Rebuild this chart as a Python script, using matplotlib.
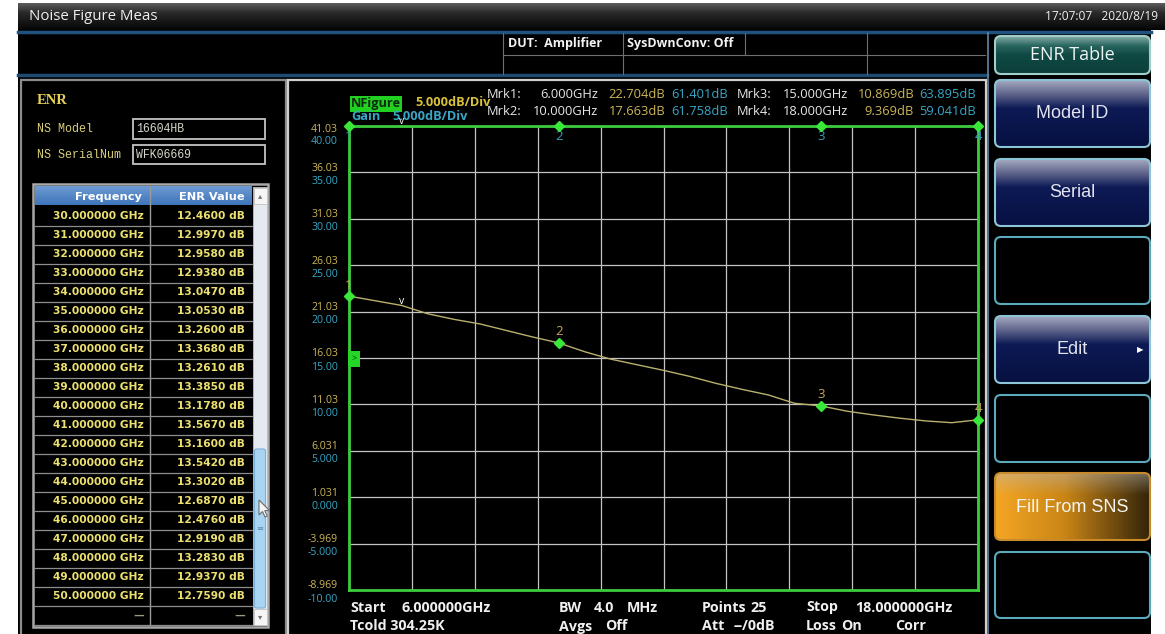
import numpy as np
import matplotlib
matplotlib.use("Agg")
import matplotlib.pyplot as plt
from matplotlib.patches import FancyBboxPatch, Rectangle, Polygon
from matplotlib.colors import to_rgb

plt.rcParams['font.family'] = ['Open Sans', 'DejaVu Sans']

W, H = 1165, 634

# sweep settings and measured noise figure trace
sweep_start, sweep_stop, sweep_points = 6.0, 18.0, 25
nf_trace = [22.70, 22.20, 21.70, 20.80, 20.20, 19.70, 19.00, 18.30, 17.66,
            16.70, 15.90, 15.30, 14.70, 14.05, 13.30, 12.65, 12.05, 11.15,
            10.87, 10.30, 9.90, 9.55, 9.25, 9.06, 9.37]

# marker readouts
mrk_freq = [6.0, 10.0, 15.0, 18.0]
mrk_nf = [22.704, 17.663, 10.869, 9.369]
mrk_gain = [61.401, 61.758, 63.895, 59.041]
delta_freq = 7.0
gain_ref_level = 15.0

# display scale
nf_top, gain_top, db_per_div, n_div = 41.031, 40.0, 5.0, 10

# ENR table of the noise source
ns_model, ns_serial = "16604HB", "WFK06669"
enr_freq = [30, 31, 32, 33, 34, 35, 36, 37, 38, 39, 40,
            41, 42, 43, 44, 45, 46, 47, 48, 49, 50]
enr_db = [12.460, 12.997, 12.958, 12.938, 13.047, 13.053, 13.260, 13.368,
          13.261, 13.385, 13.178, 13.567, 13.160, 13.542, 13.302, 12.687,
          12.476, 12.919, 13.283, 12.937, 12.759]

softkeys = ["ENR Table", "Model ID", "Serial", "", "Edit", "", "Fill From SNS", ""]
softkey_rows = [(36, 74), (80, 147), (159, 226), (237, 304),
                (316, 383), (395, 462), (473, 540), (552, 618)]

YEL = '#cdb65a'
BLU = '#3aa6c6'
TBL = '#ece070'
GRN = '#3ae83a'


def ramp(stops, n):
    pos = [p for p, _ in stops]
    cols = np.array([to_rgb(c) for _, c in stops])
    t = np.linspace(0, 1, n)
    return np.stack([np.interp(t, pos, cols[:, i]) for i in range(3)], axis=-1)


def shaded_box(ax, x0, y0, x1, y1, img, edge, lw=1.5, r=6):
    patch = FancyBboxPatch((x0, y0), x1 - x0, y1 - y0,
                           boxstyle=f"round,pad=0,rounding_size={r}",
                           fc='none', ec=edge, lw=lw, zorder=3)
    ax.add_patch(patch)
    if img is not None:
        im = ax.imshow(img, extent=(x0, x1, y1, y0), aspect='auto',
                       interpolation='bilinear', zorder=2)
        im.set_clip_path(patch)


fig = plt.figure(figsize=(W / 100, H / 100), dpi=100, facecolor='white')
ui = fig.add_axes([0, 0, 1, 1])
ui.axis('off')

# screen background and title bar
ui.add_patch(Rectangle((18, 3), 1133, H, fc='black', ec='none', zorder=0))
bar = ramp([(0, '#5c5c5c'), (0.35, '#2a2a2a'), (1, '#050505')], 40)[:, None, :]
ui.imshow(bar, extent=(18, W, 30, 3), aspect='auto', zorder=1)
ui.text(29, 17, "Noise Figure Meas", color='#f0f0f0', fontsize=10.8,
        va='center', zorder=4)
ui.text(1158, 17, "17:07:07   2020/8/19", color='#f0f0f0', fontsize=8.6,
        va='center', ha='right', zorder=4)
ui.plot([18, 1151], [31.5, 31.5], color='#1f527e', lw=2.5, zorder=2)
ui.plot([18, 987], [75, 75], color='#1f4a72', lw=2.5, zorder=2)

# status box
for x, y0, y1 in [(503, 33, 74), (623, 33, 74), (745, 33, 55), (867, 33, 74)]:
    ui.plot([x, x], [y0, y1], color='#6f6f6f', lw=0.8, zorder=2)
ui.plot([503, 985], [55, 55], color='#6f6f6f', lw=0.8, zorder=2)
ui.text(508, 44, "DUT:  Amplifier", color='#f2f2f2', fontsize=9.0,
        fontweight='bold', va='center', zorder=4)
ui.text(627, 44, "SysDwnConv: Off", color='#f2f2f2', fontsize=9.0,
        fontweight='bold', va='center', zorder=4)

# left ENR panel
ui.add_patch(Rectangle((21, 80), 265, 560, fc='black', ec='#8c8c8c', lw=1.6, zorder=1))
ui.text(37, 101, "ENR", color='#e6d25a', fontsize=10.5, fontweight='bold',
        family='Liberation Serif', va='center', zorder=4)
ui.text(37, 129, "NS Model", color='#d9cf7a', fontsize=8.4,
        family='Liberation Mono', va='center', zorder=4)
ui.text(37, 155, "NS SerialNum", color='#d9cf7a', fontsize=8.4,
        family='Liberation Mono', va='center', zorder=4)
for (y0, y1), s in zip([(119, 139), (145, 164)], [ns_model, ns_serial]):
    ui.add_patch(Rectangle((133, y0), 132, y1 - y0, fc='black', ec='#c4c4c4',
                           lw=1.3, zorder=2))
    ui.text(136, (y0 + y1) / 2, s, color='#d6d6cc', fontsize=8.3,
            family='Liberation Mono', va='center', zorder=4)

# ENR table
row_h = 19.02
first_row = 216
ui.add_patch(Rectangle((33, 184), 235, 443, fc='black', ec='#a8a8a8', lw=1.8, zorder=1))
hdr = ramp([(0, '#6d9ad4'), (1, '#3f76ba')], 20)[:, None, :]
ui.imshow(hdr, extent=(35, 252, 205.5, 187), aspect='auto', zorder=2)
ui.plot([150, 150], [187, 625], color='#9a9a9a', lw=1.0, zorder=3)
ui.text(142, 196.5, "Frequency", color='white', fontsize=8.2, fontweight='bold',
        family='DejaVu Sans', ha='right', va='center', zorder=4)
ui.text(245, 196.5, "ENR Value", color='white', fontsize=8.2, fontweight='bold',
        family='DejaVu Sans', ha='right', va='center', zorder=4)
for i, (f, v) in enumerate(zip(enr_freq + [None], enr_db + [None])):
    yc = first_row + i * row_h
    ui.plot([35, 252], [yc + row_h / 2, yc + row_h / 2], color='#8e8e8e',
            lw=0.9, zorder=3)
    fs = "—" if f is None else f"{f:.6f} GHz"
    vs = "—" if v is None else f"{v:.4f} dB"
    col = '#9a9a80' if f is None else TBL
    ui.text(144, yc, fs, color=col, fontsize=7.7, fontweight='bold',
            family='DejaVu Sans', ha='right', va='center', zorder=4)
    ui.text(245, yc, vs, color=col, fontsize=7.7, fontweight='bold',
            family='DejaVu Sans', ha='right', va='center', zorder=4)

# scrollbar
ui.add_patch(Rectangle((253, 187), 14, 438, fc='#e4eaf0', ec='#b8c0c8', lw=0.6, zorder=2))
ui.add_patch(Rectangle((253.5, 187.5), 13, 16, fc='#f6f6f6', ec='#c0c0c0', lw=0.6, zorder=3))
ui.text(260, 196, "▴", color='#707070', fontsize=6, ha='center', va='center',
        family='DejaVu Sans', zorder=4)
ui.add_patch(Rectangle((253.5, 609), 13, 16, fc='#f6f6f6', ec='#c0c0c0', lw=0.6, zorder=3))
ui.text(260, 617, "▾", color='#707070', fontsize=6, ha='center', va='center',
        family='DejaVu Sans', zorder=4)
ui.add_patch(FancyBboxPatch((254.5, 449), 11, 159, boxstyle="round,pad=0,rounding_size=2",
                            fc='#a9d5f2', ec='#7db0d6', lw=0.8, zorder=3))
ui.text(260, 528, "≡", color='#5a88b0', fontsize=6, ha='center', va='center',
        family='DejaVu Sans', zorder=4)
cursor = np.array([(0, 0), (0, 15), (3.5, 11.5), (6, 17), (8.3, 16), (5.8, 10.6), (10.5, 10.6)])
ui.add_patch(Polygon(cursor + (259, 500), closed=True, fc='#f4f4f4', ec='#6a6a6a',
                     lw=0.8, zorder=5))

# plot panel frame
ui.add_patch(Rectangle((288, 80), 698, 560, fc='black', ec='#cfcfcf', lw=1.6, zorder=1))

# trace header
ui.text(376, 104, "NFigure", color='#0c2a0c', fontsize=9.2, fontweight='bold',
        ha='center', va='center',
        bbox=dict(boxstyle='square,pad=0.08', fc='#22d022', ec='none'), zorder=4)
ui.text(415, 103, "5.000dB/Div", color='#d8c23a', fontsize=9.2, fontweight='bold',
        va='center', zorder=4)
ui.text(351, 117, "Gain", color=BLU, fontsize=9.2, fontweight='bold', va='center', zorder=4)
ui.text(392, 117, "5.000dB/Div", color=BLU, fontsize=9.2, fontweight='bold',
        va='center', zorder=4)

# marker table
cols_left = (487, 598, 665, 728)
cols_right = (737, 848, 914, 976)
for i in range(len(mrk_freq)):
    cx = cols_left if i in (0, 1) else cols_right
    yc = 94 if i in (0, 2) else 111.5
    ui.text(cx[0], yc, f"Mrk{i + 1}:", color='#e8e8e8', fontsize=9.3, va='center', zorder=4)
    ui.text(cx[1], yc, f"{mrk_freq[i]:.3f}GHz", color='#e8e8e8', fontsize=9.3,
            ha='right', va='center', zorder=4)
    ui.text(cx[2], yc, f"{mrk_nf[i]:.3f}dB", color=YEL, fontsize=9.3,
            ha='right', va='center', zorder=4)
    ui.text(cx[3], yc, f"{mrk_gain[i]:.3f}dB", color=BLU, fontsize=9.3,
            ha='right', va='center', zorder=4)

# sweep settings
bottom_rows = [
    [(350, "Start"), (402, f"{sweep_start:.6f}GHz"), (559, "BW"), (594, "4.0"),
     (627, "MHz"), (702, "Points"), (750, f"{sweep_points}"), (806, "Stop"),
     (855, f"{sweep_stop:.6f}GHz")],
    [(350, "Tcold 304.25K"), (559, "Avgs"), (605, "Off"), (702, "Att"),
     (734, "--/0dB"), (806, "Loss"), (841, "On"), (895, "Corr")],
]
for yc, row in zip([607.5, 626.5], bottom_rows):
    for x, s in row:
        ui.text(x, yc, s, color='#f0f0f0', fontsize=10.3, fontweight='bold',
                va='center', zorder=4)

# softkeys
ui.plot([987.5, 987.5], [33, H], color='#5f86a8', lw=1.2, zorder=2)
navy = ramp([(0, '#a4a8c0'), (0.22, '#5a6088'), (0.42, '#0d1a55'), (1, '#071040')], 60)[:, None, :]
teal = ramp([(0, '#84aca8'), (0.25, '#2a6660'), (0.5, '#0f4943'), (1, '#0c3e3a')], 60)[:, None, :]
orange_h = ramp([(0, '#f4a624'), (0.45, '#c98516'), (1, '#33240a')], 120)[None, :, :]
g = np.clip(0.45 - np.linspace(0, 1, 60) * 1.4, 0, None)[:, None, None]
orange = orange_h * (1 - g) + np.array(to_rgb('#b8b8b8')) * g
for s, (y0, y1) in zip(softkeys, softkey_rows):
    if s == "ENR Table":
        shaded_box(ui, 995, y0, 1150, y1, teal, '#9fcfc8')
        ui.text(1072, (y0 + y1) / 2, s, color='#eef4f4', fontsize=13, ha='center',
                va='center', zorder=4)
    elif s == "Fill From SNS":
        shaded_box(ui, 995, y0, 1150, y1, orange, '#c88a2a')
        ui.text(1072, (y0 + y1) / 2 + 1, s, color='#f4f4f0', fontsize=13,
                family='Liberation Sans', ha='center', va='center', zorder=4)
    elif s:
        shaded_box(ui, 995, y0, 1150, y1, navy, '#8cc6d6')
        ui.text(1072, (y0 + y1) / 2, s, color='#e4e4ee', fontsize=13,
                family='Liberation Sans', ha='center', va='center', zorder=4)
        if s == "Edit":
            ui.text(1140, (y0 + y1) / 2, "▶", color='white', fontsize=6,
                    family='DejaVu Sans', ha='center', va='center', zorder=4)
    else:
        shaded_box(ui, 995, y0, 1150, y1, None, '#5aaabc')

ui.set_xlim(0, W)
ui.set_ylim(H, 0)

# noise figure display
ax = fig.add_axes([349 / W, (H - 590) / H, (978 - 349) / W, (590 - 126) / H])
ax.set_facecolor('black')
freq = np.linspace(sweep_start, sweep_stop, sweep_points)
nf_bottom = nf_top - n_div * db_per_div
ax.set_xlim(sweep_start, sweep_stop)
ax.set_ylim(nf_bottom, nf_top)
ax.set_xticks(np.linspace(sweep_start, sweep_stop, n_div + 1))
ax.set_yticks(nf_top - db_per_div * np.arange(n_div + 1))
ax.grid(color='#c4c4c4', lw=0.9)
ax.tick_params(length=0, labelbottom=False, labelleft=False)
for sp in ax.spines.values():
    sp.set_color('#3ccc3c')
    sp.set_linewidth(2)

ax.plot(freq, nf_trace, color='#b9b06c', lw=1.0, zorder=3)

# scale labels, NF above each line and gain below
ytr = ax.get_yaxis_transform()
for k in range(n_div + 1):
    nv = nf_top - k * db_per_div
    gv = gain_top - k * db_per_div
    up, dn = (-4, -16) if k == 0 else (4, -9)
    for shown, dy, c in [(nv, up, YEL), (gv, dn, BLU)]:
        txt = f"{shown:.2f}" if abs(shown) >= 10 else f"{shown:.3f}"
        ax.annotate(txt, (0, nv), xycoords=ytr, xytext=(-11, dy),
                    textcoords='offset pixels', ha='right', va='center',
                    color=c, fontsize=7.6, annotation_clip=False)

# markers: NF on screen, gain clipped to the top line
gain_as_nf = np.minimum(np.array(mrk_gain) + (nf_top - gain_top), nf_top)
ax.plot(mrk_freq, gain_as_nf, 'D', color=GRN, ms=5, clip_on=False, zorder=6)
ax.plot(mrk_freq, mrk_nf, 'D', color=GRN, ms=5.5, clip_on=False, zorder=6)
for i, f in enumerate(mrk_freq):
    ax.annotate(str(i + 1), (f, mrk_nf[i]), xytext=(0, 11), textcoords='offset pixels',
                ha='center', va='center', color='#c8a45c', fontsize=9.5, annotation_clip=False)
    ax.annotate(str(i + 1), (f, gain_as_nf[i]), xytext=(0, -10), textcoords='offset pixels',
                ha='center', va='center', color='#3a9cbc', fontsize=9.5, annotation_clip=False)

ax.annotate('v', (delta_freq, np.interp(delta_freq, freq, nf_trace)), xytext=(0, 4),
            textcoords='offset pixels', ha='center', va='center', color='white', fontsize=7.5)
ax.annotate('v', (delta_freq, nf_top), xytext=(0, 5), textcoords='offset pixels',
            ha='center', va='center', color='white', fontsize=7.5, annotation_clip=False)

# gain reference level flag
ax.annotate('>', (0, gain_ref_level + (nf_top - gain_top)), xycoords=ytr,
            xytext=(5, -1), textcoords='offset pixels', ha='center', va='center',
            color='#0b3a0b', fontsize=6.5,
            bbox=dict(boxstyle='square,pad=0.35', fc='#26d626', ec='none'))

fig.savefig('out.png', dpi=100, facecolor='white')
